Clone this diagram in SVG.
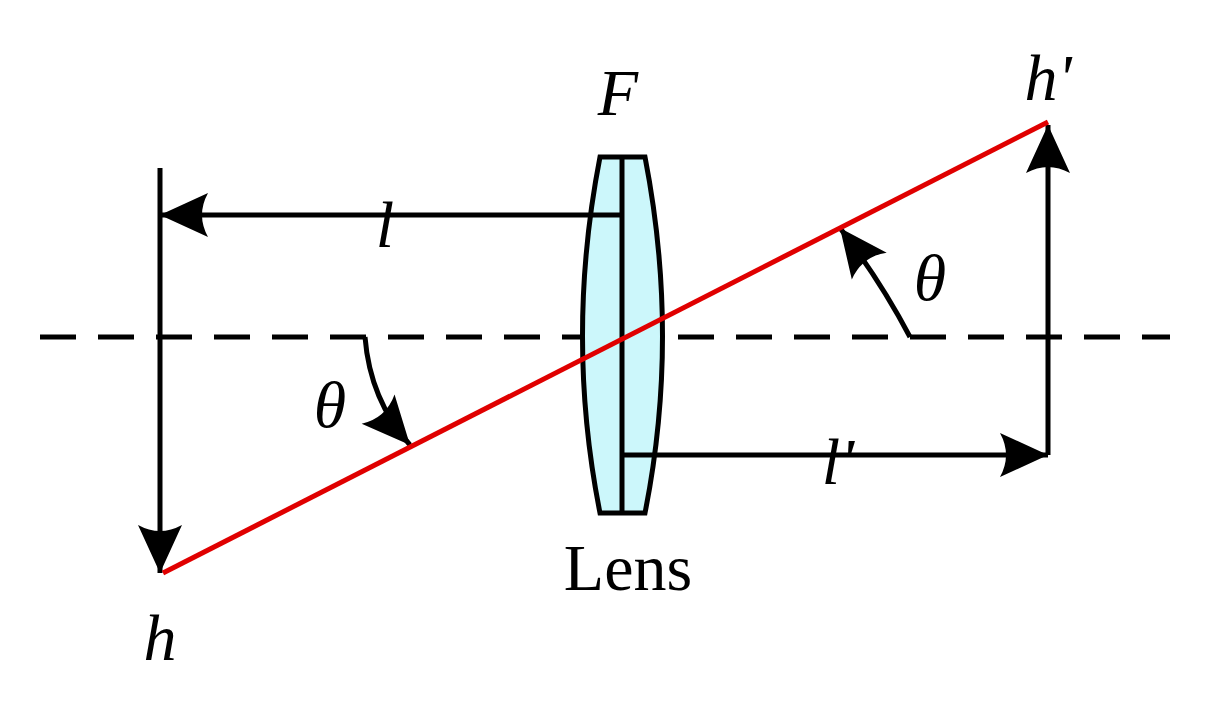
<svg xmlns="http://www.w3.org/2000/svg" width="1214" height="704" viewBox="0 0 1214 704">
<style>
.k{stroke:#000;stroke-width:5;fill:none}
.t{font-family:"Liberation Serif",serif;font-size:66px;font-style:italic;fill:#000}
</style>
<defs>
<marker id="a" viewBox="0 0 20 20" refX="19" refY="10" markerWidth="10" markerHeight="10" markerUnits="userSpaceOnUse" orient="auto" overflow="visible">
<path d="M-30,-12 L20,10 L-30,32 Q-18,10 -30,-12Z" fill="#000" transform="translate(0,0)"/>
</marker>
<marker id="m" viewBox="-50 -25 55 50" refX="0" refY="0" markerWidth="55" markerHeight="50" markerUnits="userSpaceOnUse" orient="auto">
<path d="M0,0 L-48,-22 Q-36,0 -48,22Z" fill="#000"/>
</marker>
</defs>
<rect width="1214" height="704" fill="#fff"/>
<g id="axis"><path class="k" d="M40,337 H1170" stroke-dasharray="36,22"/></g>
<g id="lens">
<path d="M600,157 H645 Q680,337 645,513 H600 Q565,337 600,157Z" fill="#ccf7fb" stroke="#000" stroke-width="5"/>
<path class="k" d="M622,157 V513"/>
</g>
<g id="connectors">
<path class="k" d="M160,168 V573" marker-end="url(#m)"/>
<path class="k" d="M622,215 H160" marker-end="url(#m)"/>
<path class="k" d="M622,455 H1048" marker-end="url(#m)"/>
<path class="k" d="M1048,455 V125" marker-end="url(#m)"/>
<path class="k" d="M365,337 Q370,400 410,445" marker-end="url(#m)"/>
<path class="k" d="M910,337 Q880,280 840,228" marker-end="url(#m)"/>
<path d="M163,573 L1048,122" stroke="#e00000" stroke-width="5" fill="none"/>
</g>
<g id="labels">
<text class="t" x="618" y="115" text-anchor="middle">F</text>
<text class="t" x="385" y="247" text-anchor="middle">l</text>
<text class="t" x="1048" y="100" text-anchor="middle">h'</text>
<text class="t" x="330" y="427" text-anchor="middle">θ</text>
<text class="t" x="930" y="300" text-anchor="middle">θ</text>
<text class="t" x="838" y="484" text-anchor="middle">l'</text>
<text class="t" x="160" y="660" text-anchor="middle">h</text>
<text x="628" y="590" text-anchor="middle" font-family="Liberation Serif,serif" font-size="66" fill="#000">Lens</text>
</g>
</svg>
